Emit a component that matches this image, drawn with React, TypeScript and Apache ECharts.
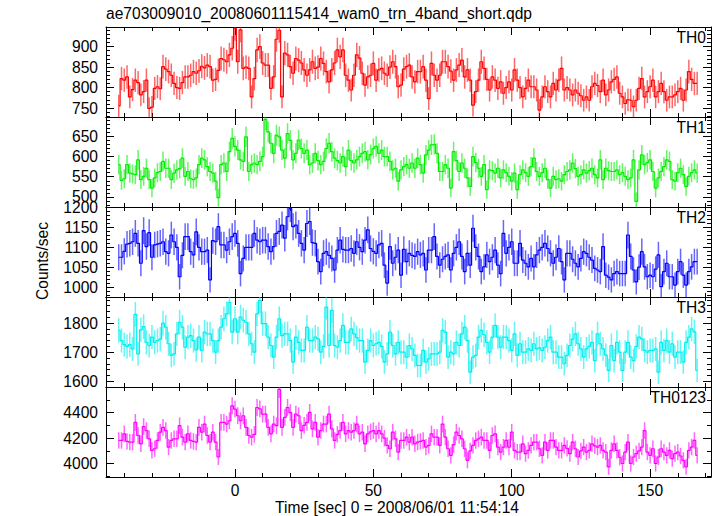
import React, { useEffect, useRef } from "react";
import * as echarts from "echarts";

// ---- data (1-s bins, first bin centre at t = -42 s) ----
const FIRST_BIN = -42;

const th0 = [
  755, 822, 818, 826, 777, 795, 818, 812, 782, 790,
  818, 749, 752, 798, 802, 797, 851, 845, 839, 830,
  810, 800, 798, 812, 826, 826, 830, 839, 835, 841,
  852, 848, 855, 851, 818, 820, 842, 871, 868, 863,
  880, 896, 945, 863, 941, 847, 850, 847, 777, 822,
  892, 900, 860, 855, 855, 798, 826, 918, 940, 777,
  884, 880, 851, 835, 871, 867, 860, 843, 830, 843,
  863, 847, 850, 871, 859, 839, 814, 843, 860, 892,
  875, 892, 830, 818, 794, 830, 880, 872, 835, 806,
  826, 830, 859, 818, 843, 847, 835, 830, 850, 863,
  851, 802, 806, 845, 851, 855, 826, 814, 839, 839,
  851, 818, 773, 859, 830, 818, 830, 863, 863, 851,
  840, 818, 843, 855, 867, 826, 843, 818, 757, 790,
  818, 863, 847, 820, 794, 826, 818, 798, 814, 786,
  800, 814, 794, 843, 818, 800, 777, 798, 818, 802,
  802, 794, 745, 777, 802, 790, 777, 810, 794, 818,
  847, 794, 800, 794, 782, 794, 786, 780, 769, 777,
  769, 802, 810, 805, 790, 818, 782, 794, 814, 820,
  826, 786, 777, 761, 770, 769, 753, 769, 798, 822,
  777, 790, 802, 818, 777, 790, 810, 790, 769, 777,
  777, 782, 790, 798, 769, 794, 839, 820, 810, 810,
];

const th1 = [
  580, 541, 545, 580, 559, 557, 555, 592, 543, 551,
  571, 543, 522, 547, 560, 563, 588, 571, 571, 543,
  559, 567, 570, 596, 551, 563, 545, 543, 547, 580,
  596, 592, 575, 563, 559, 539, 498, 580, 584, 563,
  612, 645, 625, 616, 592, 588, 649, 563, 580, 584,
  580, 588, 600, 692, 661, 633, 608, 653, 649, 616,
  596, 657, 640, 592, 608, 641, 620, 608, 616, 580,
  584, 608, 590, 580, 588, 620, 633, 612, 596, 590,
  584, 600, 575, 616, 590, 584, 592, 600, 608, 612,
  592, 605, 620, 625, 608, 616, 600, 600, 588, 567,
  571, 539, 567, 575, 580, 571, 584, 571, 596, 580,
  559, 604, 616, 629, 630, 608, 563, 563, 580, 571,
  522, 612, 590, 563, 584, 571, 547, 526, 600, 585,
  571, 551, 580, 518, 567, 565, 559, 571, 547, 567,
  560, 551, 539, 559, 518, 555, 567, 560, 551, 575,
  596, 563, 551, 560, 571, 543, 522, 551, 543, 545,
  539, 555, 563, 567, 584, 570, 551, 555, 567, 559,
  565, 571, 555, 547, 592, 543, 571, 565, 563, 563,
  567, 555, 560, 551, 543, 547, 592, 489, 567, 604,
  580, 585, 592, 563, 522, 547, 563, 575, 592, 588,
  543, 539, 560, 571, 555, 526, 551, 560, 567, 559,
];

const th2 = [
  1075, 1075, 1090, 1108, 1110, 1114, 1135, 1110, 1060, 1142,
  1102, 1137, 1075, 1106, 1108, 1110, 1114, 1089, 1085, 1131,
  1114, 1100, 1026, 1080, 1127, 1127, 1089, 1081, 1139, 1100,
  1089, 1089, 1093, 1018, 1117, 1114, 1152, 1106, 1106, 1093,
  1114, 1127, 1135, 1110, 1034, 1072, 1100, 1100, 1100, 1135,
  1118, 1114, 1118, 1118, 1102, 1089, 1102, 1135, 1140, 1156,
  1123, 1177, 1198, 1152, 1156, 1135, 1110, 1093, 1160, 1165,
  1112, 1110, 1064, 1039, 1085, 1089, 1080, 1072, 1043, 1093,
  1118, 1095, 1093, 1093, 1097, 1085, 1114, 1100, 1089, 1118,
  1144, 1097, 1090, 1085, 1106, 1110, 1055, 1010, 1102, 1060,
  1075, 1093, 1030, 1095, 1064, 1085, 1080, 1077, 1089, 1081,
  1085, 1043, 1093, 1093, 1127, 1077, 1055, 1070, 1077, 1081,
  1043, 1085, 1100, 1114, 1077, 1039, 1085, 1055, 1148, 1100,
  1077, 1039, 1051, 1081, 1064, 1075, 1093, 1055, 1034, 1135,
  1085, 1100, 1114, 1060, 1060, 1110, 1068, 1060, 1051, 1072,
  1051, 1081, 1093, 1100, 1110, 1097, 1085, 1060, 1075, 1097,
  1064, 1018, 1085, 1085, 1070, 1060, 1051, 1072, 1089, 1085,
  1075, 1068, 1047, 1043, 1039, 1102, 1030, 1025, 1018, 1034,
  1039, 1034, 1034, 1034, 1131, 1077, 1043, 1013, 1050, 1089,
  1051, 1026, 1030, 1026, 1045, 1081, 1001, 1039, 1060, 1026,
  1026, 1005, 1039, 1064, 1030, 1005, 1039, 1051, 1064, 1064,
];

const th3 = [
  1775, 1740, 1726, 1720, 1726, 1711, 1830, 1694, 1777, 1788,
  1734, 1723, 1752, 1734, 1740, 1745, 1800, 1786, 1729, 1689,
  1694, 1763, 1803, 1786, 1717, 1752, 1757, 1740, 1708, 1752,
  1706, 1769, 1763, 1763, 1740, 1700, 1740, 1786, 1815, 1832,
  1872, 1769, 1815, 1769, 1821, 1810, 1803, 1763, 1729, 1700,
  1832, 1878, 1798, 1798, 1752, 1723, 1683, 1752, 1815, 1757,
  1763, 1763, 1740, 1666, 1752, 1734, 1706, 1706, 1786, 1740,
  1740, 1752, 1746, 1700, 1720, 1855, 1723, 1844, 1723, 1717,
  1740, 1792, 1734, 1734, 1780, 1763, 1750, 1740, 1740, 1666,
  1706, 1740, 1723, 1729, 1734, 1720, 1666, 1694, 1769, 1723,
  1694, 1734, 1700, 1700, 1683, 1723, 1711, 1689, 1654, 1654,
  1706, 1666, 1677, 1694, 1694, 1694, 1700, 1775, 1769, 1683,
  1700, 1694, 1734, 1723, 1763, 1786, 1740, 1631, 1683, 1689,
  1752, 1775, 1760, 1734, 1700, 1752, 1792, 1752, 1717, 1752,
  1752, 1740, 1706, 1763, 1689, 1729, 1700, 1700, 1711, 1706,
  1729, 1711, 1715, 1706, 1717, 1740, 1752, 1700, 1700, 1683,
  1683, 1660, 1689, 1723, 1745, 1763, 1729, 1711, 1683, 1711,
  1720, 1734, 1671, 1763, 1729, 1711, 1690, 1637, 1723, 1671,
  1734, 1700, 1637, 1700, 1734, 1683, 1671, 1720, 1752, 1746,
  1706, 1700, 1706, 1706, 1711, 1631, 1734, 1706, 1740, 1700,
  1729, 1683, 1700, 1700, 1666, 1734, 1752, 1780, 1770, 1637,
];

const th0123 = [
  4182, 4182, 4234, 4175, 4169, 4169, 4324, 4221, 4156, 4291,
  4260, 4195, 4104, 4117, 4182, 4247, 4285, 4260, 4130, 4182,
  4195, 4195, 4298, 4208, 4169, 4234, 4182, 4175, 4169, 4285,
  4247, 4311, 4221, 4169, 4247, 4169, 4052, 4324, 4324, 4311,
  4337, 4454, 4428, 4376, 4337, 4376, 4285, 4221, 4208, 4230,
  4441, 4430, 4389, 4389, 4285, 4234, 4311, 4298, 4583, 4285,
  4363, 4441, 4400, 4285, 4389, 4376, 4260, 4300, 4324, 4402,
  4273, 4324, 4208, 4260, 4311, 4311, 4389, 4273, 4182, 4230,
  4260, 4324, 4234, 4260, 4247, 4260, 4311, 4234, 4247, 4156,
  4234, 4250, 4260, 4234, 4260, 4234, 4200, 4143, 4117, 4247,
  4195, 4091, 4182, 4182, 4208, 4169, 4208, 4156, 4169, 4175,
  4182, 4130, 4143, 4234, 4208, 4208, 4143, 4311, 4208, 4117,
  4065, 4150, 4247, 4221, 4195, 4117, 4026, 4100, 4143, 4182,
  4195, 4208, 4182, 4182, 4104, 4221, 4234, 4130, 4091, 4130,
  4182, 4130, 4247, 4104, 4091, 4091, 4156, 4078, 4104, 4143,
  4169, 4169, 4117, 4065, 4169, 4104, 4182, 4182, 4130, 4104,
  4104, 4143, 4120, 4078, 4169, 4117, 4052, 4100, 4130, 4091,
  4104, 4156, 4140, 4130, 4143, 4104, 4091, 3975, 4104, 4156,
  4104, 4050, 4001, 4091, 4169, 4001, 4052, 4078, 4100, 4130,
  4260, 4091, 4065, 4117, 4001, 4052, 4117, 4090, 4065, 4104,
  4039, 4078, 4091, 4060, 4026, 3975, 4104, 4130, 4182, 4065,
];

const panelNames = ["TH0", "TH1", "TH2", "TH3", "TH0123"];
const panelSeries = [th0, th1, th2, th3, th0123];
const yMajorTicks = [
  [750, 800, 850, 900],
  [500, 550, 600, 650],
  [1000, 1050, 1100, 1150, 1200],
  [1600, 1700, 1800],
  [4000, 4200, 4400],
];
const yRanges = [
  [728, 948],
  [475, 698],
  [975, 1201.5],
  [1580, 1890],
  [3895, 4602],
];
const yMinorSteps = [10, 10, 10, 20, 100];
const xMajorTicks = [0, 50, 100, 150];
const xMinorStep = 10;
const xRange = [-46.6, 172];

const TITLE = "ae703009010_20080601115414_wam0_trn_4band_short.qdp";
const X_NAME = "Time [sec] 0 = 2008/06/01 11:54:14";
const Y_NAME = "Counts/sec";

// ---- styles ----
const COLORS = ["#ff0000", "#00ee00", "#0000ff", "#00eeee", "#ff00ff"];
const FONT = "Liberation Sans";
const FS = 15.6;
const GRID_LEFT = 106;
const GRID_RIGHT = 6;
const GRID_TOP = 27;
const PANEL_H = 90;

function stepTicks(min: number, max: number, step: number): number[] {
  const out: number[] = [];
  for (let v = Math.ceil(min / step) * step; v <= max + 1e-9; v += step) out.push(v);
  return out;
}

export default function App() {
  const ref = useRef<HTMLDivElement>(null);

  useEffect(() => {
    document.body.style.margin = "0";
    if (!ref.current) return;
    const chart = echarts.init(ref.current, undefined, { renderer: "svg" });

    const grids: any[] = [];
    const xAxes: any[] = [];
    const yAxes: any[] = [];
    const series: any[] = [];
    const graphics: any[] = [];

    const xMinor = stepTicks(xRange[0], xRange[1], xMinorStep);
    const axisLine = { show: true, onZero: false, lineStyle: { color: "#000", width: 1 } };
    const noLine = { show: false, onZero: false };
    const labelStyle = {
      color: "#000",
      fontFamily: FONT,
      fontSize: FS,
      formatter: (v: number) => String(v),
    };
    const tickStyle = { color: "#000", width: 1 };

    panelSeries.forEach((vals, i) => {
      const top = GRID_TOP + i * PANEL_H;
      grids.push({ left: GRID_LEFT, right: GRID_RIGHT, top, height: PANEL_H, containLabel: false });
      const [ymin, ymax] = yRanges[i];
      const yMinor = stepTicks(ymin, ymax, yMinorSteps[i]);
      const isLast = i === panelSeries.length - 1;

      const xBase = { gridIndex: i, type: "value", min: xRange[0], max: xRange[1], splitLine: { show: false } };
      xAxes.push({
        ...xBase, position: "bottom", axisLine,
        axisTick: { inside: true, length: 8, customValues: xMajorTicks, lineStyle: tickStyle },
        axisLabel: { show: isLast, customValues: xMajorTicks, margin: 5, ...labelStyle },
      });
      xAxes.push({
        ...xBase, position: "bottom", axisLine: noLine,
        axisTick: { inside: true, length: 4, customValues: xMinor, lineStyle: tickStyle },
        axisLabel: { show: false },
      });
      xAxes.push({
        ...xBase, position: "top", axisLine,
        axisTick: { inside: true, length: 8, customValues: xMajorTicks, lineStyle: tickStyle },
        axisLabel: { show: false },
      });
      xAxes.push({
        ...xBase, position: "top", axisLine: noLine,
        axisTick: { inside: true, length: 4, customValues: xMinor, lineStyle: tickStyle },
        axisLabel: { show: false },
      });

      const yBase = { gridIndex: i, type: "value", min: ymin, max: ymax, splitLine: { show: false } };
      yAxes.push({
        ...yBase, position: "left", axisLine,
        axisTick: { inside: true, length: 8, customValues: yMajorTicks[i], lineStyle: tickStyle },
        axisLabel: { show: true, customValues: yMajorTicks[i], margin: 8, ...labelStyle },
      });
      yAxes.push({
        ...yBase, position: "left", axisLine: noLine,
        axisTick: { inside: true, length: 4, customValues: yMinor, lineStyle: tickStyle },
        axisLabel: { show: false },
      });
      yAxes.push({
        ...yBase, position: "right", axisLine,
        axisTick: { inside: true, length: 8, customValues: yMajorTicks[i], lineStyle: tickStyle },
        axisLabel: { show: false },
      });
      yAxes.push({
        ...yBase, position: "right", axisLine: noLine,
        axisTick: { inside: true, length: 4, customValues: yMinor, lineStyle: tickStyle },
        axisLabel: { show: false },
      });

      const color = COLORS[i];
      const pts = vals.map((v, k) => [FIRST_BIN + k, v, Math.sqrt(v)]);

      series.push({
        type: "custom",
        xAxisIndex: 4 * i,
        yAxisIndex: 4 * i,
        clip: true,
        silent: true,
        data: pts,
        encode: { x: 0, y: 1 },
        renderItem: (_params: any, api: any) => {
          const x = api.value(0);
          const v = api.value(1);
          const e = api.value(2);
          const lo = Math.max(v - e, ymin);
          const hi = Math.min(v + e, ymax);
          const p1 = api.coord([x, lo]);
          const p2 = api.coord([x, hi]);
          return {
            type: "line",
            shape: { x1: p1[0], y1: p1[1], x2: p2[0], y2: p2[1] },
            style: { stroke: color, lineWidth: 1.5, opacity: 0.6 },
          };
        },
      });
      series.push({
        type: "line",
        xAxisIndex: 4 * i,
        yAxisIndex: 4 * i,
        step: "middle",
        showSymbol: false,
        symbol: "none",
        silent: true,
        clip: true,
        data: pts.map((p) => [p[0], p[1]]),
        lineStyle: { color, width: 1.2 },
      });

      graphics.push({
        type: "text",
        right: 11,
        top: top + 2,
        style: { text: panelNames[i], fill: "#000", font: `${FS}px '${FONT}'`, textAlign: "right" },
      });
    });

    graphics.push({
      type: "text",
      left: GRID_LEFT,
      top: 5,
      style: { text: TITLE, fill: "#000", font: `${FS}px '${FONT}'` },
    });
    graphics.push({
      type: "text",
      x: 397,
      y: 507,
      style: { text: X_NAME, fill: "#000", font: `${FS}px '${FONT}'`, textAlign: "center", textVerticalAlign: "middle" },
    });
    graphics.push({
      type: "text",
      x: 42,
      y: 261,
      rotation: Math.PI / 2,
      style: { text: Y_NAME, fill: "#000", font: `${FS}px '${FONT}'`, textAlign: "center", textVerticalAlign: "middle" },
    });

    chart.setOption({
      animation: false,
      backgroundColor: "#fff",
      grid: grids,
      xAxis: xAxes,
      yAxis: yAxes,
      series,
      graphic: graphics,
    });

    return () => chart.dispose();
  }, []);

  return <div ref={ref} style={{ width: 717, height: 516 }} />;
}
